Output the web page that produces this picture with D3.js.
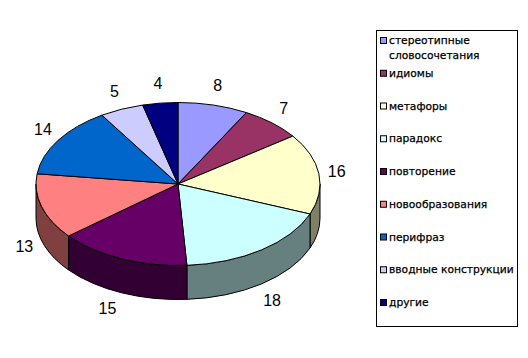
<!DOCTYPE html>
<html>
<head>
<meta charset="utf-8">
<script src="https://cdn.jsdelivr.net/npm/d3@7"></script>
<style>
html, body { margin: 0; padding: 0; background: #fff; }
svg { display: block; }
</style>
</head>
<body>
<div id="chart"></div>
<script>
var categories = ["стереотипные словосочетания", "идиомы", "метафоры", "парадокс", "повторение", "новообразования", "перифраз", "вводные конструкции", "другие"];
var values = [8, 7, 16, 18, 15, 13, 14, 5, 4];
var colors = ["#9999FF", "#993366", "#FFFFCC", "#CCFFFF", "#660066", "#FF8080", "#0066CC", "#CCCCFF", "#000080"];

var width = 528, height = 358;
var cx = 178, cy = 184, rx = 142, ry = 81.5, depth = 34;

var svg = d3.select("#chart").append("svg")
	.attr("width", width)
	.attr("height", height);

svg.append("rect").attr("width", width).attr("height", height).attr("fill", "#fff");

//Pie angles, clockwise from the top
var pie = d3.pie().sort(null).value(function(d) { return d.value; });
var slices = pie(values.map(function(v, i) { return {value: v, name: categories[i], color: colors[i]}; }));

function px(a) { return cx + rx * Math.sin(a); }
function py(a) { return cy - ry * Math.cos(a); }

function shade(c) {
	var col = d3.rgb(c);
	return d3.rgb(col.r / 2, col.g / 2, col.b / 2).formatHex();
}

//Side walls, only the front half of the ellipse shows
svg.selectAll(".wall")
	.data(slices.filter(function(d) { return d.endAngle > Math.PI / 2 && d.startAngle < 3 * Math.PI / 2; }))
	.enter().append("path")
	.attr("class", "wall")
	.attr("d", function(d) {
		var a0 = Math.max(d.startAngle, Math.PI / 2), a1 = Math.min(d.endAngle, 3 * Math.PI / 2);
		return "M" + px(a0) + "," + py(a0) +
			"A" + rx + "," + ry + " 0 0 1 " + px(a1) + "," + py(a1) +
			"L" + px(a1) + "," + (py(a1) + depth) +
			"A" + rx + "," + ry + " 0 0 0 " + px(a0) + "," + (py(a0) + depth) + "Z";
	})
	.attr("fill", function(d) { return shade(d.data.color); })
	.attr("stroke", "#000")
	.attr("stroke-width", 1);

//Top face
svg.selectAll(".slice")
	.data(slices)
	.enter().append("path")
	.attr("class", "slice")
	.attr("d", function(d) {
		var large = d.endAngle - d.startAngle > Math.PI ? 1 : 0;
		return "M" + cx + "," + cy + "L" + px(d.startAngle) + "," + py(d.startAngle) +
			"A" + rx + "," + ry + " 0 " + large + " 1 " + px(d.endAngle) + "," + py(d.endAngle) + "Z";
	})
	.attr("fill", function(d) { return d.data.color; })
	.attr("stroke", "#000")
	.attr("stroke-width", 1)
	.attr("stroke-linejoin", "round");

//Value labels, the 15 sits a bit further left in the original
svg.selectAll(".value-label")
	.data(slices)
	.enter().append("text")
	.attr("class", "value-label")
	.attr("x", function(d) {
		return cx + (rx + 18) * Math.sin((d.startAngle + d.endAngle) / 2) + (d.value === 15 ? -7 : 0);
	})
	.attr("y", function(d) {
		var a = (d.startAngle + d.endAngle) / 2, c = Math.cos(a);
		return cy - (ry + 20) * c + (c < 0 ? depth : 0) + (d.value === 15 ? -3 : 0);
	})
	.attr("dy", "0.36em")
	.attr("text-anchor", "middle")
	.style("font-family", "'Liberation Sans', Arial, sans-serif")
	.style("font-size", "16px")
	.text(function(d) { return d.value; });

//Legend
var legend = svg.append("g");

legend.append("rect")
	.attr("x", 376.5).attr("y", 30.5)
	.attr("width", 141).attr("height", 296)
	.attr("fill", "#fff")
	.attr("stroke", "#000");

var legendY = d3.scalePoint().domain(categories).range([41, 303]);

var items = legend.selectAll(".item")
	.data(slices)
	.enter().append("g")
	.attr("class", "item")
	.attr("transform", function(d) { return "translate(380," + legendY(d.data.name) + ")"; });

items.append("rect")
	.attr("x", 0.5).attr("y", -3.5)
	.attr("width", 6).attr("height", 6)
	.attr("fill", function(d) { return d.data.color; })
	.attr("stroke", "#000");

items.append("text")
	.attr("x", 9)
	.style("font-family", "'DejaVu Sans', Verdana, sans-serif")
	.style("font-size", "10.7px")
	.style("stroke", "#000")
	.style("stroke-width", "0.25px")
	.each(function(d) {
		var words = d.data.name.split(" ");
		var lines = d.data.name === categories[0] ? words : [d.data.name];
		d3.select(this).selectAll("tspan")
			.data(lines)
			.enter().append("tspan")
			.attr("x", 9)
			.attr("y", function(t, i) { return i * 15 + 3; })
			.text(function(t) { return t; });
	});
</script>
</body>
</html>
